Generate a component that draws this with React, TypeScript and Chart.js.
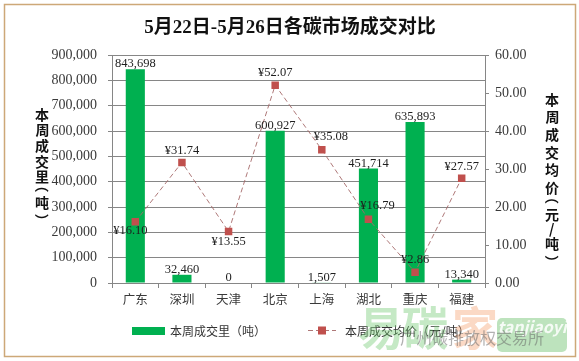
import { useEffect, useRef } from "react";
import { Chart, registerables } from "chart.js";

Chart.register(...registerables);

// ---------- data ----------
const categories = ["广东", "深圳", "天津", "北京", "上海", "湖北", "重庆", "福建"];
const volumes = [843698, 32460, 0, 600927, 1507, 451714, 635893, 13340];
const prices = [16.1, 31.74, 13.55, 52.07, 35.08, 16.79, 2.86, 27.57];
const leftTicks = [0, 100000, 200000, 300000, 400000, 500000, 600000, 700000, 800000, 900000];
const rightTicks = [0, 10, 20, 30, 40, 50, 60];
const chartTitle = "5月22日-5月26日各碳市场成交对比";
const leftAxisTitle = "本周成交里（吨）";
const rightAxisTitle = "本周成交均价（元/吨）";
const volumeLegend = "本周成交里（吨）";
const priceLegend = "本周成交均价（元/吨）";
const priceLabelAnchors = ["below-left", "above", "below", "above", "above-right", "above-right", "above", "above"];
const watermarkLogo = ["易", "碳", "家"];
const watermarkLatin = "tanjiaoyi";
const watermarkOrg = "广州碳排放权交易所";

// ---------- styles ----------
const GREEN = "#00B050";
const MARK = "#C0504D";
const LINE = "rgba(165,105,105,0.9)";
const GRID = "#868686";
const AXIS = "#868686";
const TEXT = "#3a3a3a";
const SERIF = "'Liberation Serif', 'Times New Roman', 'Noto Sans CJK SC', serif";
const CJK = "'Noto Sans CJK SC', 'Noto Sans', sans-serif";
const ANCHORS: Record<string, { dx: number; dy: number }> = {
  above: { dx: 0, dy: -12 },
  below: { dx: 0, dy: 10 },
  "below-left": { dx: -5, dy: 9 },
  "above-right": { dx: 9, dy: -13 },
};

function drawGlyphCentered(ctx: CanvasRenderingContext2D, ch: string, x: number, y: number, rotate: boolean) {
  ctx.save();
  ctx.textAlign = "left";
  ctx.textBaseline = "alphabetic";
  const m = ctx.measureText(ch);
  const ox = (m.actualBoundingBoxRight - m.actualBoundingBoxLeft) / 2;
  const oy = (m.actualBoundingBoxDescent - m.actualBoundingBoxAscent) / 2;
  ctx.translate(x, y);
  if (rotate) ctx.rotate(Math.PI / 2);
  ctx.fillText(ch, -ox, -oy);
  ctx.restore();
}

function drawVertical(ctx: CanvasRenderingContext2D, text: string, x: number, y0: number, step: number, narrowStep: number) {
  const narrow = (c: string) => c === "（" || c === "）" || c === "/";
  let y = y0;
  const chars = Array.from(text);
  chars.forEach((c, i) => {
    if (i > 0) y += narrow(c) || narrow(chars[i - 1]) ? narrowStep : step;
    drawGlyphCentered(ctx, c, x, y, c === "（" || c === "）");
  });
}

const backgroundPlugin = {
  id: "bg",
  beforeDraw(chart: any) {
    const ctx = chart.ctx as CanvasRenderingContext2D;
    ctx.save();
    ctx.fillStyle = "#ffffff";
    ctx.fillRect(0, 0, chart.width, chart.height);
    ctx.strokeStyle = "#CDA878";
    ctx.lineWidth = 1.5;
    ctx.strokeRect(4.5, 4.5, 571, 352);
    ctx.restore();
  },
};

const labelsPlugin = {
  id: "valueLabels",
  afterDatasetsDraw(chart: any) {
    const ctx = chart.ctx as CanvasRenderingContext2D;
    ctx.save();
    ctx.font = `12.5px ${SERIF}`;
    ctx.fillStyle = "#1e1e1e";
    ctx.textAlign = "center";
    ctx.textBaseline = "alphabetic";
    chart.getDatasetMeta(0).data.forEach((el: any, i: number) => {
      ctx.fillText(volumes[i].toLocaleString("en-US"), el.x, el.y - 2);
    });
    ctx.textBaseline = "middle";
    chart.getDatasetMeta(1).data.forEach((el: any, i: number) => {
      const o = ANCHORS[priceLabelAnchors[i]];
      ctx.fillText("¥" + prices[i].toFixed(2), el.x + o.dx, el.y + o.dy);
    });
    ctx.restore();
  },
};

const decorPlugin = {
  id: "decor",
  afterDraw(chart: any) {
    const ctx = chart.ctx as CanvasRenderingContext2D;
    ctx.save();
    // title
    ctx.fillStyle = "#111";
    ctx.font = `bold 19px 'Liberation Serif', 'Noto Sans CJK SC', serif`;
    ctx.textAlign = "center";
    ctx.textBaseline = "middle";
    ctx.fillText(chartTitle, 290, 28);

    // axis titles
    ctx.fillStyle = "#111";
    ctx.font = `bold 14px ${CJK}`;
    drawVertical(ctx, leftAxisTitle, 42, 115, 15.5, 13);
    drawVertical(ctx, rightAxisTitle, 552, 100, 17.5, 14);

    // legend
    ctx.fillStyle = GREEN;
    ctx.fillRect(132, 327, 33, 8);
    ctx.fillStyle = "#333";
    ctx.font = `12px ${CJK}`;
    ctx.textAlign = "left";
    ctx.textBaseline = "middle";
    ctx.fillText(volumeLegend, 170, 331);
    ctx.strokeStyle = LINE;
    ctx.lineWidth = 1;
    ctx.setLineDash([5, 3]);
    ctx.beginPath();
    ctx.moveTo(308, 330.5);
    ctx.lineTo(336, 330.5);
    ctx.stroke();
    ctx.setLineDash([]);
    ctx.fillStyle = MARK;
    ctx.fillRect(318, 326.5, 8, 8);
    ctx.fillStyle = "#333";
    ctx.fillText(priceLegend, 345, 331);

    // watermark
    ctx.font = `bold 46px ${CJK}`;
    ctx.textAlign = "center";
    ctx.fillStyle = "rgba(110,200,110,0.4)";
    ctx.fillText(watermarkLogo[0], 381, 328);
    ctx.fillText(watermarkLogo[1], 425, 328);
    ctx.fillStyle = "rgba(245,160,110,0.4)";
    ctx.fillText(watermarkLogo[2], 475, 328);
    ctx.fillStyle = "rgba(90,185,90,0.4)";
    ctx.beginPath();
    (ctx as any).roundRect(497, 318, 70, 34, 5);
    ctx.fill();
    ctx.fillStyle = "rgba(255,255,255,0.85)";
    ctx.font = `italic bold 16px ${CJK}`;
    ctx.fillText(watermarkLatin, 532, 327);
    ctx.fillStyle = "rgba(100,100,100,0.5)";
    ctx.font = `16px ${CJK}`;
    ctx.textAlign = "left";
    ctx.fillText(watermarkOrg, 400, 338);
    ctx.restore();
  },
};

export default function App() {
  const ref = useRef<HTMLCanvasElement>(null);
  useEffect(() => {
    document.body.style.margin = "0";
    const canvas = ref.current!;
    const chart = new Chart(canvas, {
      type: "bar",
      data: {
        labels: categories,
        datasets: [
          {
            type: "bar",
            label: volumeLegend,
            data: volumes,
            yAxisID: "y",
            backgroundColor: GREEN,
            barPercentage: 0.41,
            categoryPercentage: 1,
            order: 2,
          },
          {
            type: "line",
            label: priceLegend,
            data: prices,
            yAxisID: "y1",
            borderColor: LINE,
            borderWidth: 1,
            borderDash: [5, 3],
            pointStyle: "rect",
            pointRadius: 5.3,
            pointBackgroundColor: MARK,
            pointBorderColor: MARK,
            pointBorderWidth: 0,
            tension: 0,
            order: 1,
          } as any,
        ],
      },
      options: {
        responsive: false,
        animation: false,
        devicePixelRatio: 1,
        layout: { padding: { top: 55, bottom: 48, left: 0, right: 0 } },
        plugins: {
          legend: { display: false },
          title: { display: false },
          tooltip: { enabled: false },
        },
        scales: {
          x: {
            offset: true,
            grid: { display: true, drawOnChartArea: false, offset: true, tickLength: 5, color: AXIS },
            border: { color: AXIS },
            ticks: { font: { family: CJK, size: 12.5 }, color: TEXT, padding: 4 },
            afterFit: (s: any) => {
              s.height = 30;
            },
          },
          y: {
            position: "left",
            min: 0,
            max: 900000,
            afterBuildTicks: (s: any) => {
              s.ticks = leftTicks.map((v) => ({ value: v }));
            },
            ticks: {
              callback: (v: any) => Number(v).toLocaleString("en-US"),
              font: { family: SERIF, size: 14 },
              color: TEXT,
              padding: 11,
            },
            grid: { color: GRID, tickLength: 4 },
            border: { color: AXIS },
            afterFit: (s: any) => {
              s.width = 112;
            },
          },
          y1: {
            position: "right",
            min: 0,
            max: 60,
            afterBuildTicks: (s: any) => {
              s.ticks = rightTicks.map((v) => ({ value: v }));
            },
            ticks: {
              callback: (v: any) => Number(v).toFixed(2),
              font: { family: SERIF, size: 14 },
              color: TEXT,
              padding: 6,
            },
            grid: { drawOnChartArea: false, tickLength: 4, color: AXIS },
            border: { color: AXIS },
            afterFit: (s: any) => {
              s.width = 94;
            },
          },
        },
      } as any,
      plugins: [backgroundPlugin, labelsPlugin, decorPlugin],
    });
    return () => chart.destroy();
  }, []);
  return <canvas ref={ref} width={579} height={361} style={{ display: "block" }} />;
}
